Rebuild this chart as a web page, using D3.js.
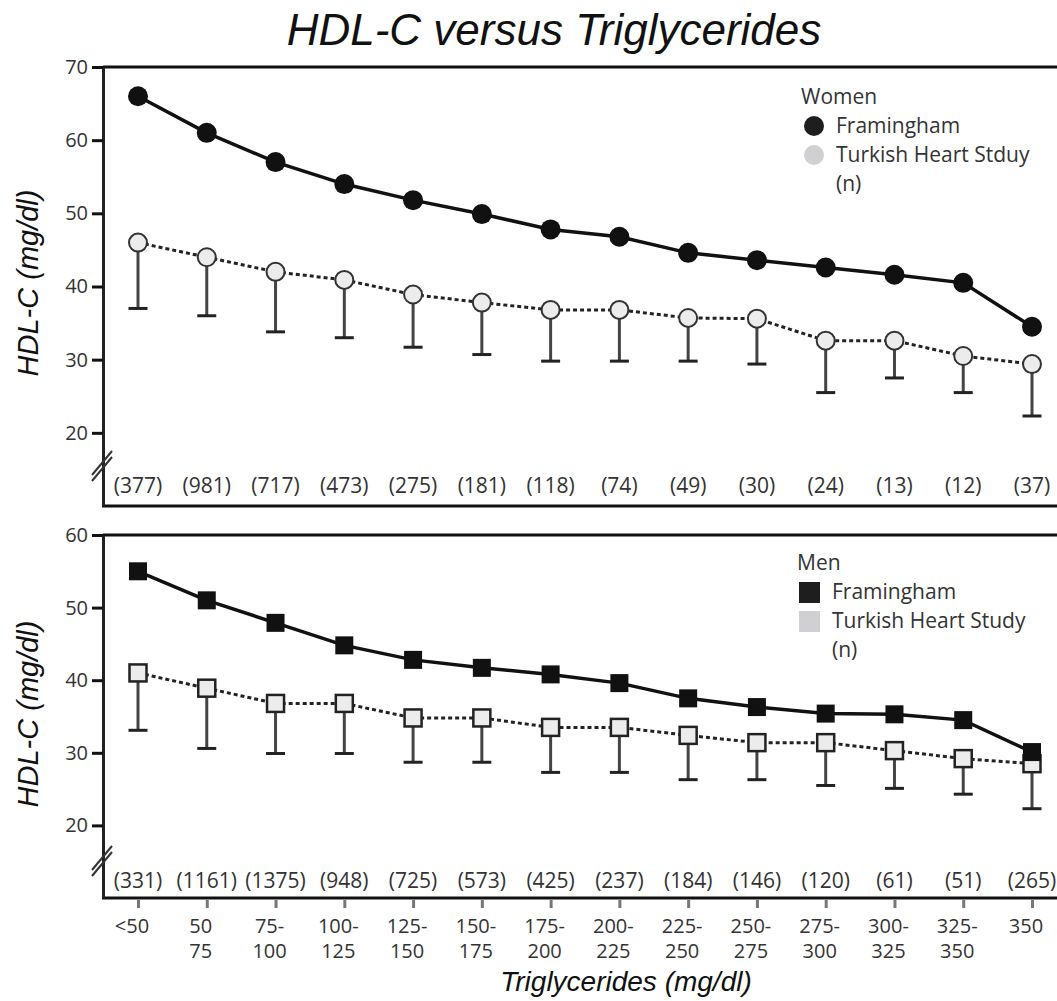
<!DOCTYPE html>
<html>
<head>
<meta charset="utf-8">
<script src="https://cdn.jsdelivr.net/npm/d3@7"></script>
<style>
  body { margin: 0; background: #fff; }
  svg text { font-family: "Open Sans", sans-serif; fill: #333; }
  .title { font-family: "Liberation Sans", Arial, sans-serif; font-style: italic; fill: #111; }
</style>
</head>
<body>
<div id="chart"></div>
<script>
// triglyceride groups
var categories = ["<50", "50-75", "75-100", "100-125", "125-150", "150-175", "175-200",
    "200-225", "225-250", "250-275", "275-300", "300-325", "325-350", "350"];
var tickLine1 = ["<50", "50", "75-", "100-", "125-", "150-", "175-", "200-", "225-", "250-", "275-", "300-", "325-", "350"];
var tickLine2 = ["", "75", "100", "125", "150", "175", "200", "225", "250", "275", "300", "325", "350", ""];

// women
var womenFram = [66, 61, 57, 54, 51.8, 49.9, 47.8, 46.8, 44.6, 43.6, 42.6, 41.6, 40.5, 34.5];
var womenTurk = [46, 44, 42, 40.9, 38.9, 37.8, 36.8, 36.8, 35.7, 35.6, 32.6, 32.6, 30.5, 29.4];
var womenTurkLow = [37, 36, 33.8, 33, 31.7, 30.7, 29.8, 29.8, 29.8, 29.4, 25.5, 27.5, 25.5, 22.3];
var womenN = [377, 981, 717, 473, 275, 181, 118, 74, 49, 30, 24, 13, 12, 37];
var womenTicks = [20, 30, 40, 50, 60, 70];

// men
var menFram = [55, 51, 47.9, 44.8, 42.8, 41.7, 40.8, 39.6, 37.5, 36.3, 35.4, 35.3, 34.5, 30.1];
var menTurk = [41, 38.9, 36.8, 36.8, 34.8, 34.8, 33.5, 33.5, 32.4, 31.4, 31.4, 30.3, 29.2, 28.5];
var menTurkLow = [33.1, 30.6, 29.9, 29.9, 28.7, 28.7, 27.3, 27.3, 26.3, 26.3, 25.5, 25.1, 24.3, 22.3];
var menN = [331, 1161, 1375, 948, 725, 573, 425, 237, 184, 146, 120, 61, 51, 265];
var menTicks = [20, 30, 40, 50, 60];

var width = 1057, height = 1001;
var axisX = 103;

var svg = d3.select("#chart").append("svg")
    .attr("width", width)
    .attr("height", height);

var x = d3.scalePoint().domain(categories).range([138, 1032]);

svg.append("text")
    .attr("class", "title")
    .attr("x", 554)
    .attr("y", 45)
    .attr("text-anchor", "middle")
    .style("font-size", "44px")
    .text("HDL-C versus Triglycerides");

function panel(opt) {
    var y = d3.scaleLinear().domain(opt.domain).range([opt.bottom, opt.top]);
    var g = svg.append("g");

    // frame: top line and bottom line
    g.append("line")
        .attr("x1", axisX).attr("x2", width)
        .attr("y1", opt.top).attr("y2", opt.top)
        .attr("stroke", "#111").attr("stroke-width", 3);
    g.append("line")
        .attr("x1", axisX - 1).attr("x2", width)
        .attr("y1", opt.bottom).attr("y2", opt.bottom)
        .attr("stroke", "#111").attr("stroke-width", 3);

    var ax = g.append("g")
        .attr("transform", "translate(" + axisX + ",0)")
        .call(d3.axisLeft(y).tickValues(opt.ticks).tickSize(11).tickSizeOuter(0).tickPadding(4));
    ax.select(".domain").attr("stroke", "#222").attr("stroke-width", 3);
    ax.selectAll(".tick line").attr("stroke", "#111").attr("stroke-width", 3);
    ax.selectAll(".tick text")
        .style("font-family", "'Open Sans', sans-serif")
        .style("font-size", "20px")
        .attr("fill", "#333");

    // axis break
    [0, 6].forEach(function (o) {
        g.append("line")
            .attr("x1", axisX - 11).attr("y1", opt.brk + 12 + o)
            .attr("x2", axisX + 9).attr("y2", opt.brk - 12 + o)
            .attr("stroke", "#333").attr("stroke-width", 2);
    });

    g.append("text")
        .attr("class", "title")
        .attr("transform", "translate(38," + opt.titleY + ") rotate(-90)")
        .attr("text-anchor", "middle")
        .style("font-size", "29px")
        .text("HDL-C (mg/dl)");

    var idx = d3.range(categories.length);

    // error bars
    var eb = g.append("g").selectAll("g").data(idx).enter().append("g");
    eb.append("line")
        .attr("x1", function (i) { return x(categories[i]); })
        .attr("x2", function (i) { return x(categories[i]); })
        .attr("y1", function (i) { return y(opt.turk[i]); })
        .attr("y2", function (i) { return y(opt.low[i]); })
        .attr("stroke", "#444").attr("stroke-width", 3);
    eb.append("line")
        .attr("x1", function (i) { return x(categories[i]) - 9.5; })
        .attr("x2", function (i) { return x(categories[i]) + 9.5; })
        .attr("y1", function (i) { return y(opt.low[i]); })
        .attr("y2", function (i) { return y(opt.low[i]); })
        .attr("stroke", "#222").attr("stroke-width", 3);

    var line = function (vals) {
        return d3.line()
            .x(function (i) { return x(categories[i]); })
            .y(function (i) { return y(vals[i]); })(idx);
    };

    g.append("path")
        .attr("d", line(opt.turk))
        .attr("fill", "none")
        .attr("stroke", "#222").attr("stroke-width", 3)
        .attr("stroke-dasharray", "4,3");
    g.append("path")
        .attr("d", line(opt.fram))
        .attr("fill", "none")
        .attr("stroke", "#111").attr("stroke-width", 3.5);

    if (opt.shape === "circle") {
        g.append("g").selectAll("circle").data(idx).enter().append("circle")
            .attr("cx", function (i) { return x(categories[i]); })
            .attr("cy", function (i) { return y(opt.turk[i]); })
            .attr("r", 9)
            .attr("fill", "#ececec").attr("stroke", "#333").attr("stroke-width", 2);
        g.append("g").selectAll("circle").data(idx).enter().append("circle")
            .attr("cx", function (i) { return x(categories[i]); })
            .attr("cy", function (i) { return y(opt.fram[i]); })
            .attr("r", 10)
            .attr("fill", "#111");
    } else {
        g.append("g").selectAll("rect").data(idx).enter().append("rect")
            .attr("x", function (i) { return x(categories[i]) - 8.5; })
            .attr("y", function (i) { return y(opt.turk[i]) - 8.5; })
            .attr("width", 17).attr("height", 17)
            .attr("fill", "#ececec").attr("stroke", "#222").attr("stroke-width", 2.5);
        g.append("g").selectAll("rect").data(idx).enter().append("rect")
            .attr("x", function (i) { return x(categories[i]) - 9; })
            .attr("y", function (i) { return y(opt.fram[i]) - 9; })
            .attr("width", 18).attr("height", 18)
            .attr("fill", "#111");
    }

    // sample sizes
    g.append("g").selectAll("text").data(idx).enter().append("text")
        .attr("x", function (i) { return x(categories[i]); })
        .attr("y", opt.nY)
        .attr("text-anchor", "middle")
        .style("font-size", "21px")
        .text(function (i) { return "(" + opt.n[i] + ")"; });

    // legend
    var lg = g.append("g").attr("transform", "translate(" + opt.legX + "," + opt.legY + ")");
    lg.append("text").attr("x", 0).attr("y", 0).style("font-size", "21px").text(opt.group);
    var items = [["#1e1e1e", "Framingham"], ["#d0d0d2", opt.turkLabel]];
    items.forEach(function (it, k) {
        var yy = 29 * (k + 1);
        if (opt.shape === "circle") {
            lg.append("circle").attr("cx", 13).attr("cy", yy - 7).attr("r", 10).attr("fill", it[0]);
        } else {
            lg.append("rect").attr("x", 2).attr("y", yy - 17).attr("width", 21).attr("height", 21).attr("fill", it[0]);
        }
        lg.append("text").attr("x", 35).attr("y", yy).style("font-size", "21px").text(it[1]);
    });
    lg.append("text").attr("x", 35).attr("y", 87).style("font-size", "21px").text("(n)");

    return { y: y, g: g };
}

panel({
    domain: [10, 70], top: 67, bottom: 506, ticks: womenTicks, brk: 463,
    titleY: 283, fram: womenFram, turk: womenTurk, low: womenTurkLow, n: womenN,
    nY: 493, shape: "circle", group: "Women", turkLabel: "Turkish Heart Stduy",
    legX: 801, legY: 104
});

panel({
    domain: [10, 60], top: 535, bottom: 898, ticks: menTicks, brk: 858,
    titleY: 714, fram: menFram, turk: menTurk, low: menTurkLow, n: menN,
    nY: 888, shape: "square", group: "Men", turkLabel: "Turkish Heart Study",
    legX: 797, legY: 570
});

// x axis ticks under the men panel
var xa = svg.append("g")
    .attr("transform", "translate(0,900)")
    .call(d3.axisBottom(x).tickSize(8).tickFormat(""));
xa.select(".domain").remove();
xa.selectAll(".tick line").attr("stroke", "#777").attr("stroke-width", 3);

var lab = svg.append("g").selectAll("text").data(categories).enter().append("text")
    .attr("x", function (d) { return x(d) - 6; })
    .attr("y", 933)
    .attr("text-anchor", "middle")
    .style("font-size", "20px");
lab.append("tspan").text(function (d, i) { return tickLine1[i]; });
lab.append("tspan")
    .attr("x", function (d) { return x(d) - 6; })
    .attr("dy", 25)
    .text(function (d, i) { return tickLine2[i]; });

svg.append("text")
    .attr("class", "title")
    .attr("x", 626)
    .attr("y", 991)
    .attr("text-anchor", "middle")
    .style("font-size", "28px")
    .text("Triglycerides (mg/dl)");
</script>
</body>
</html>
